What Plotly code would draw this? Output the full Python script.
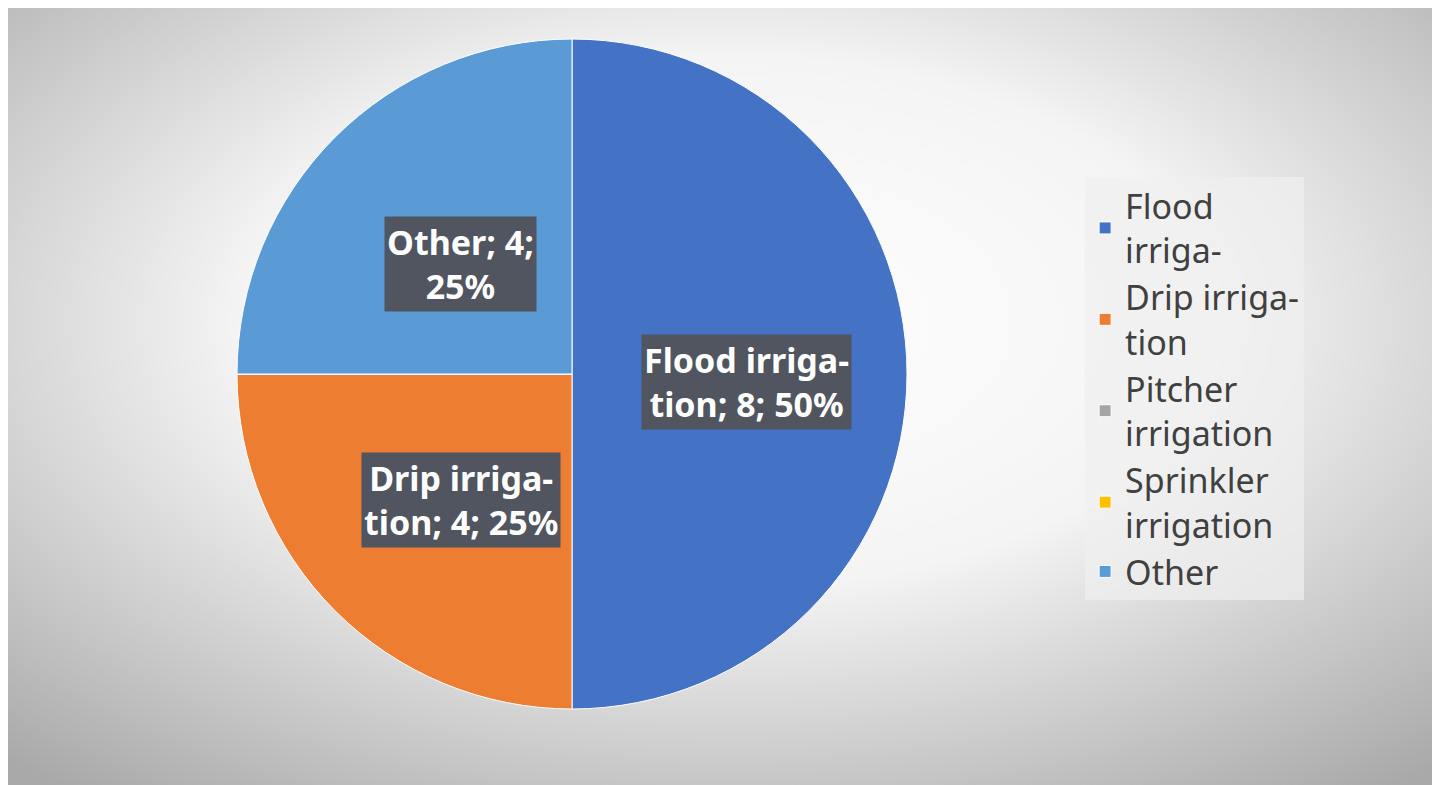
import math, base64
import plotly.graph_objects as go

categories = ["Flood irrigation", "Drip irrigation", "Pitcher irrigation", "Sprinkler irrigation", "Other"]
legend_labels = ["Flood<br>irriga-", "Drip irriga-<br>tion", "Pitcher<br>irrigation", "Sprinkler<br>irrigation", "Other"]
values = [8, 4, 0, 0, 4]
label_text = ["Flood irriga-<br>tion; 8; 50%", "Drip irriga-<br>tion; 4; 25%", None, None, "Other; 4;<br>25%"]
colors = ["#4472C4", "#ED7D31", "#A5A5A5", "#FFC000", "#5B9BD5"]

W, H = 1440, 785
cx, cy, R = 571, 374, 335
ox, oy = -7, -8  # compensation for plotly's pie placement
dom_x = [(cx + ox - R) / W, (cx + ox + R) / W]
dom_y = [(H - cy - oy - R) / H, (H - cy - oy + R) / H]

svg = f'''<svg xmlns="http://www.w3.org/2000/svg" width="{W}" height="{H}">
<defs><radialGradient id="g" cx="50%" cy="40%" r="75%">
<stop offset="0" stop-color="#ffffff"/><stop offset="0.45" stop-color="#f4f4f4"/>
<stop offset="1" stop-color="#a9a9a9"/></radialGradient></defs>
<rect width="{W}" height="{H}" fill="url(#g)"/></svg>'''
src = "data:image/svg+xml;base64," + base64.b64encode(svg.encode()).decode()

fig = go.Figure(go.Pie(
    labels=legend_labels, values=values, sort=False, direction="clockwise", rotation=0,
    marker=dict(colors=colors, line=dict(color="white", width=1)),
    textinfo="none", hoverinfo="label+value+percent",
    domain=dict(x=dom_x, y=dom_y),
))

total = sum(values)
cum = 0
for v, t in zip(values, label_text):
    mid = (cum + v / 2) / total * 2 * math.pi
    cum += v
    if not t:
        continue
    px = cx + 0.5 * R * math.sin(mid)
    py = cy - 0.5 * R * math.cos(mid)
    fig.add_annotation(x=px / W, y=1 - py / H, xref="paper", yref="paper", text=f"<b>{t}</b>",
                       xanchor="center", yanchor="middle",
                       showarrow=False, font=dict(family="Noto Sans", size=34, color="white"),
                       bgcolor="#505560", borderpad=2, align="center")

fig.update_layout(
    width=W, height=H, margin=dict(l=0, r=0, t=0, b=0),
    paper_bgcolor="white",
    images=[dict(source=src, xref="paper", yref="paper", x=0, y=1, sizex=1, sizey=1,
                 sizing="stretch", layer="below", xanchor="left", yanchor="top")],
    showlegend=True,
    legend=dict(x=0.748, y=0.515, xanchor="left", yanchor="middle",
                bgcolor="rgba(240,240,240,0.7)", font=dict(family="Noto Sans", size=34, color="#404040"),
                itemwidth=30, tracegroupgap=0),
)
fig.write_html("out.html")
